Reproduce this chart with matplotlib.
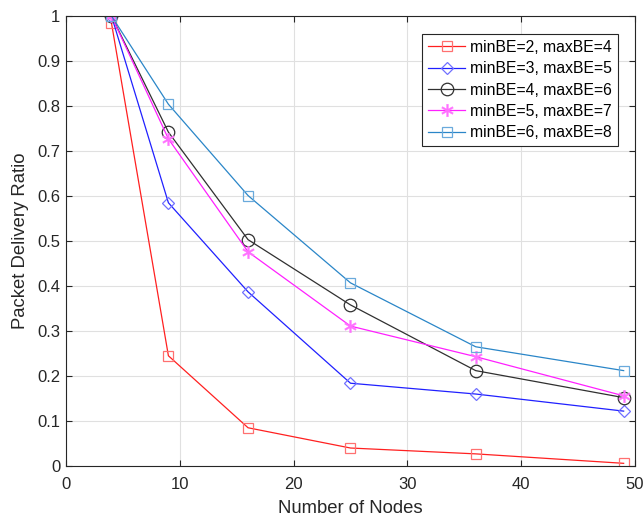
import matplotlib
matplotlib.use("Agg")
import matplotlib.pyplot as plt

nodes = [4, 9, 16, 25, 36, 49]
be_2_4 = [0.984, 0.245, 0.085, 0.040, 0.027, 0.006]
be_3_5 = [1.0, 0.585, 0.387, 0.184, 0.160, 0.122]
be_4_6 = [1.0, 0.742, 0.503, 0.358, 0.212, 0.152]
be_5_7 = [1.0, 0.727, 0.476, 0.311, 0.243, 0.156]
be_6_8 = [1.0, 0.804, 0.601, 0.407, 0.265, 0.212]
labels = ["minBE=2, maxBE=4", "minBE=3, maxBE=5", "minBE=4, maxBE=6",
          "minBE=5, maxBE=7", "minBE=6, maxBE=8"]
xticks = [0, 10, 20, 30, 40, 50]
yticks = [0, 0.1, 0.2, 0.3, 0.4, 0.5, 0.6, 0.7, 0.8, 0.9, 1.0]
ytick_labels = ["0", "0.1", "0.2", "0.3", "0.4", "0.5", "0.6", "0.7", "0.8", "0.9", "1"]

plt.rcParams['font.family'] = ['Liberation Sans', 'DejaVu Sans']

fig = plt.figure(figsize=(6.43, 5.17), dpi=100)
ax = fig.add_axes([0.1026, 0.0986, 0.885, 0.8704])

series = [be_2_4, be_3_5, be_4_6, be_5_7, be_6_8]
colors = ['#ff2020', '#2020ff', '#303030', '#ff20ff', '#2a86c8']
mcolors = ['#ff7070', '#7070ff', '#303030', '#ff70ff', '#6aaadc']
markers = ['s', 'D', 'o', '*', 's']
for ys, c, mc, m, lab in zip(series, colors, mcolors, markers, labels):
    if m == '*':
        ax.plot(nodes, ys, color=c, lw=0.9, marker='$\\ast$', markersize=9,
                markeredgewidth=0.3, markerfacecolor=mc, markeredgecolor=mc, label=lab)
    else:
        ms = {'s': 7, 'D': 6, 'o': 9}[m]
        ax.plot(nodes, ys, color=c, lw=0.9, marker=m, markersize=ms,
                markerfacecolor='none', markeredgecolor=mc, markeredgewidth=0.9, label=lab)

ax.set_xlim(0, 50)
ax.set_ylim(0, 1)
ax.set_xticks(xticks)
ax.set_yticks(yticks)
ax.set_yticklabels(ytick_labels)
ax.grid(True, color='#e0e0e0', lw=0.8)
ax.set_axisbelow(True)
ax.tick_params(direction='in', top=True, right=True, labelsize=12, colors='#262626', length=4)
ax.tick_params(axis='x', pad=8)
ax.tick_params(axis='y', pad=4)
for s in ax.spines.values():
    s.set_color('#262626')
    s.set_linewidth(0.8)
ax.set_xlabel("Number of Nodes", fontsize=13.3, color='#262626', labelpad=5.5)
ax.set_ylabel("Packet Delivery Ratio", fontsize=13.3, color='#262626', labelpad=6)
leg = ax.legend(loc='upper right', bbox_to_anchor=(0.970, 0.960), borderaxespad=0,
                fontsize=11.3, fancybox=False, framealpha=1, edgecolor='#262626',
                handlelength=2.4, borderpad=0.38, labelspacing=0.4, handletextpad=0.3)
leg.get_frame().set_linewidth(0.8)
fig.savefig("out.png", dpi=100)
